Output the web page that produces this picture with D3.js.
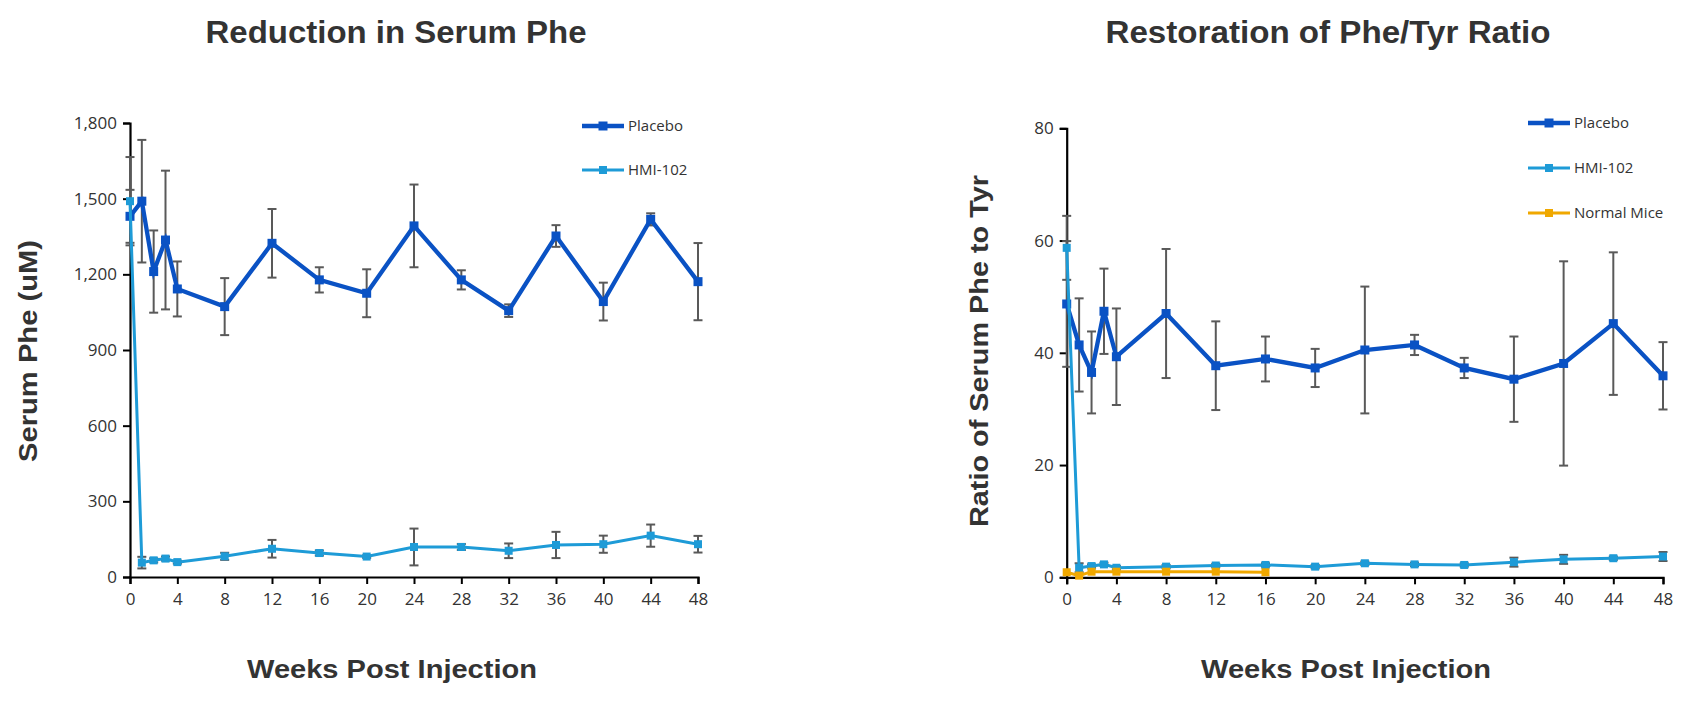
<!DOCTYPE html>
<html>
<head>
<meta charset="utf-8">
<script src="https://cdn.jsdelivr.net/npm/d3@7"></script>
<style>
  html, body { margin: 0; padding: 0; background: #fff; }
  svg { display: block; }
</style>
</head>
<body>
<svg id="chart" width="1693" height="705"></svg>
<script>
// ---------- DATA ----------
const weeks = [0, 1, 2, 3, 4, 8, 12, 16, 20, 24, 28, 32, 36, 40, 44, 48];
const xTicks = [0, 4, 8, 12, 16, 20, 24, 28, 32, 36, 40, 44, 48];

// Left chart: Serum Phe (uM)
const phePlacebo    = [1430, 1490, 1211, 1336, 1142, 1072, 1323, 1178, 1125, 1392, 1178, 1056, 1352, 1092, 1418, 1171];
const phePlaceboErr = [105, 243, 163, 275, 109, 113, 136, 50, 95, 164, 38, 25, 43, 75, 24, 153];
const pheHMI        = [1490, 57, 66, 73, 59, 82, 112, 95, 81, 119, 119, 104, 127, 130, 164, 130];
const pheHMIErr     = [175, 23, 8, 8, 6, 14, 35, 10, 5, 73, 12, 29, 52, 34, 44, 33];
const pheYTicks = [0, 300, 600, 900, 1200, 1500, 1800];

// Right chart: Ratio of Serum Phe to Tyr
const ratioPlacebo    = [48.7, 41.4, 36.5, 47.4, 39.3, 47.0, 37.7, 38.9, 37.3, 40.5, 41.4, 37.3, 35.3, 38.1, 45.2, 35.9];
const ratioPlaceboErr = [11.2, 8.3, 7.3, 7.6, 8.6, 11.5, 7.9, 4.0, 3.4, 11.3, 1.8, 1.8, 7.6, 18.2, 12.7, 6.0];
const ratioHMI        = [58.7, 1.7, 2.0, 2.3, 1.7, 1.9, 2.1, 2.2, 1.9, 2.5, 2.3, 2.2, 2.7, 3.2, 3.4, 3.7];
const ratioHMIErr     = [5.7, 0.8, 0.3, 0.3, 0.3, 0.3, 0.3, 0.3, 0.3, 0.3, 0.3, 0.3, 0.8, 0.8, 0.3, 0.8];
const normalWeeks = [0, 1, 2, 4, 8, 12, 16];
const ratioNormal = [0.9, 0.3, 1.0, 1.0, 1.0, 1.0, 0.9];
const ratioYTicks = [0, 20, 40, 60, 80];

const COLORS = { placebo: "#0A52C4", hmi: "#1E9BD7", normal: "#F0A800", err: "#595959", text: "#333333" };

// ---------- DRAW ----------
const svg = d3.select("#chart");

function drawPanel(cfg) {
  const g = svg.append("g");
  const x = d3.scaleLinear().domain([0, 48]).range(cfg.xRange);
  const y = d3.scaleLinear().domain(cfg.yDomain).range(cfg.yRange);

  // axes
  const yAxis = d3.axisLeft(y).tickValues(cfg.yTicks).tickFormat(cfg.yFormat).tickSize(7).tickPadding(6);
  const gy = g.append("g").attr("transform", `translate(${cfg.xRange[0]},0)`).call(yAxis);
  const xAxis = d3.axisBottom(x).tickValues(xTicks).tickFormat(d3.format("d")).tickSize(7).tickPadding(9);
  const gx = g.append("g").attr("transform", `translate(0,${cfg.yRange[0]})`).call(xAxis);
  [gx, gy].forEach(ax => {
    ax.select(".domain").attr("stroke", "#000").attr("stroke-width", 2.2);
    ax.selectAll(".tick line").attr("stroke", "#000").attr("stroke-width", 2);
    ax.selectAll(".tick text").attr("fill", COLORS.text)
      .style("font-family", "'Open Sans', sans-serif").style("font-size", "17px");
  });

  // error bars (behind lines)
  cfg.series.forEach(s => {
    if (!s.err) return;
    const pts = s.x.map((wx, i) => ({ x: wx, y: s.y[i], e: s.err[i] }));
    const eg = g.append("g").attr("stroke", COLORS.err).attr("stroke-width", 2).attr("fill", "none");
    pts.forEach(p => {
      const px = x(p.x), y1 = y(p.y + p.e), y2 = y(Math.max(0, p.y - p.e));
      eg.append("line").attr("x1", px).attr("x2", px).attr("y1", y1).attr("y2", y2);
      eg.append("line").attr("x1", px - 4.5).attr("x2", px + 4.5).attr("y1", y1).attr("y2", y1);
      eg.append("line").attr("x1", px - 4.5).attr("x2", px + 4.5).attr("y1", y2).attr("y2", y2);
    });
  });
  // lines and markers
  cfg.series.forEach(s => {
    const pts = s.x.map((wx, i) => ({ x: wx, y: s.y[i] }));
    g.append("path").datum(pts)
      .attr("fill", "none").attr("stroke", s.color).attr("stroke-width", s.width)
      .attr("stroke-linejoin", "miter")
      .attr("d", d3.line().x(d => x(d.x)).y(d => y(d.y)));
    g.append("g").selectAll("rect").data(pts).join("rect")
      .attr("x", d => x(d.x) - s.marker / 2).attr("y", d => y(d.y) - s.marker / 2)
      .attr("width", s.marker).attr("height", s.marker).attr("fill", s.color);
  });

  // legend
  cfg.series.forEach((s, i) => {
    const ly = cfg.legend.y + i * cfg.legend.dy;
    g.append("line").attr("x1", cfg.legend.x).attr("x2", cfg.legend.x + 42)
      .attr("y1", ly).attr("y2", ly).attr("stroke", s.color).attr("stroke-width", s.width);
    g.append("rect").attr("x", cfg.legend.x + 21 - s.marker / 2).attr("y", ly - s.marker / 2)
      .attr("width", s.marker).attr("height", s.marker).attr("fill", s.color);
    g.append("text").attr("x", cfg.legend.x + 46).attr("y", ly).attr("dy", "0.35em")
      .attr("fill", COLORS.text).style("font-family", "'Open Sans', sans-serif").style("font-size", "15px")
      .text(s.name);
  });

  // titles
  g.append("text").attr("x", cfg.title.x).attr("y", cfg.title.y).attr("text-anchor", "middle")
    .attr("fill", COLORS.text).style("font-family", "'Liberation Sans', Arial, sans-serif")
    .style("font-weight", "bold").style("font-size", "31px")
    .attr("textLength", cfg.title.len).attr("lengthAdjust", "spacingAndGlyphs")
    .text(cfg.title.text);
  g.append("text").attr("x", cfg.xTitle.x).attr("y", cfg.xTitle.y).attr("text-anchor", "middle")
    .attr("fill", COLORS.text).style("font-family", "'Liberation Sans', Arial, sans-serif")
    .style("font-weight", "bold").style("font-size", "26px")
    .attr("textLength", cfg.xTitle.len).attr("lengthAdjust", "spacingAndGlyphs")
    .text(cfg.xTitle.text);
  g.append("text").attr("transform", `translate(${cfg.yTitle.x},${cfg.yTitle.y}) rotate(-90)`)
    .attr("text-anchor", "middle").attr("dy", "0.35em")
    .attr("fill", COLORS.text).style("font-family", "'Liberation Sans', Arial, sans-serif")
    .style("font-weight", "bold").style("font-size", "25px")
    .attr("textLength", cfg.yTitle.len).attr("lengthAdjust", "spacingAndGlyphs")
    .text(cfg.yTitle.text);
}

drawPanel({
  xRange: [130, 698], yDomain: [0, 1800], yRange: [577, 123],
  yTicks: pheYTicks, yFormat: d3.format(","),
  series: [
    { name: "Placebo", x: weeks, y: phePlacebo, err: phePlaceboErr, color: COLORS.placebo, width: 4.3, marker: 9 },
    { name: "HMI-102", x: weeks, y: pheHMI, err: pheHMIErr, color: COLORS.hmi, width: 3, marker: 8 }
  ],
  legend: { x: 582, y: 126, dy: 44 },
  title: { x: 396, y: 43, len: 381, text: "Reduction in Serum Phe" },
  xTitle: { x: 392, y: 678, len: 290, text: "Weeks Post Injection" },
  yTitle: { x: 28, y: 351, len: 222, text: "Serum Phe (uM)" }
});

drawPanel({
  xRange: [1066.7, 1663], yDomain: [0, 80], yRange: [577.3, 128.3],
  yTicks: ratioYTicks, yFormat: d3.format("d"),
  series: [
    { name: "Placebo", x: weeks, y: ratioPlacebo, err: ratioPlaceboErr, color: COLORS.placebo, width: 4.3, marker: 9 },
    { name: "HMI-102", x: weeks, y: ratioHMI, err: ratioHMIErr, color: COLORS.hmi, width: 3, marker: 8 },
    { name: "Normal Mice", x: normalWeeks, y: ratioNormal, err: null, color: COLORS.normal, width: 3, marker: 8 }
  ],
  legend: { x: 1528, y: 123, dy: 45 },
  title: { x: 1328, y: 43, len: 445, text: "Restoration of Phe/Tyr Ratio" },
  xTitle: { x: 1346, y: 678, len: 290, text: "Weeks Post Injection" },
  yTitle: { x: 979, y: 351, len: 352, text: "Ratio of Serum Phe to Tyr" }
});
</script>
</body>
</html>
